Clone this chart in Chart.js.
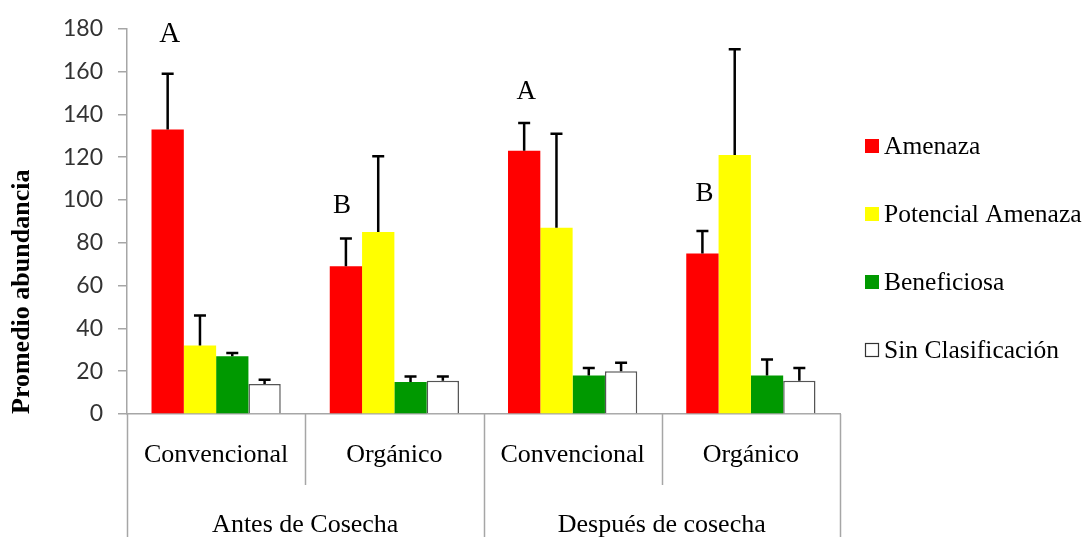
<!DOCTYPE html>
<html>
<head>
<meta charset="utf-8">
<script src="https://cdn.jsdelivr.net/npm/chart.js@4.4.0/dist/chart.umd.min.js"></script>
<style>
  body { margin: 0; background: #fff; }
  #wrap { width: 1091px; height: 537px; }
</style>
</head>
<body>
<div id="wrap"><canvas id="grafico"></canvas></div>
<script>
// datos
var categorias = ['Convencional', 'Orgánico', 'Convencional', 'Orgánico'];
var grupos = ['Antes de Cosecha', 'Después de cosecha'];
var series = ['Amenaza', 'Potencial Amenaza', 'Beneficiosa', 'Sin Clasificación'];
var amenaza = [133, 69, 123, 75];
var potencial = [32, 85, 87, 121];
var beneficiosa = [27, 15, 18, 18];
var sinClasif = [14, 15.5, 20, 15.5];
// extremo superior de la barra de error
var errAmenaza = [159, 82, 136, 85.5];
var errPotencial = [46, 120.5, 131, 170.5];
var errBeneficiosa = [28.5, 17.5, 21.5, 25.5];
var errSinClasif = [16, 17.5, 24, 21.5];
// letras de significancia sobre Amenaza
var letras = ['A', 'B', 'A', 'B'];
var letrasY = [174, 94, 147, 99.5];
var yTicks = [0, 20, 40, 60, 80, 100, 120, 140, 160, 180];

var serif = '"Liberation Serif", "Times New Roman", serif';
var colores = ['#ff0000', '#ffff00', '#009900', '#ffffff'];
var bordes = ['#ff0000', '#ffff00', '#009900', '#555555'];
var valores = [amenaza, potencial, beneficiosa, sinClasif];
var errores = [errAmenaza, errPotencial, errBeneficiosa, errSinClasif];

var datasets = [];
for (var i = 0; i < series.length; i++) {
    datasets.push({
        label: series[i],
        data: valores[i],
        errTop: errores[i],
        backgroundColor: colores[i],
        borderColor: bordes[i],
        borderWidth: i == 3 ? 1.5 : 0,
        borderSkipped: 'bottom',
        categoryPercentage: 0.725,
        barPercentage: 1.0
    });
}

var pluginExtra = {
    id: 'extra',
    afterDatasetsDraw: function(chart) {
        var ctx = chart.ctx;
        var y = chart.scales.y;
        ctx.save();
        // barras de error
        chart.data.datasets.forEach(function(ds, di) {
            var meta = chart.getDatasetMeta(di);
            meta.data.forEach(function(bar, k) {
                var y0 = y.getPixelForValue(ds.data[k]);
                var y1 = y.getPixelForValue(ds.errTop[k]);
                ctx.strokeStyle = '#000';
                ctx.lineWidth = 2.5;
                ctx.beginPath();
                ctx.moveTo(bar.x, y0);
                ctx.lineTo(bar.x, y1);
                ctx.moveTo(bar.x - 6, y1);
                ctx.lineTo(bar.x + 6, y1);
                ctx.stroke();
            });
        });
        // letras
        var meta0 = chart.getDatasetMeta(0);
        ctx.fillStyle = '#000';
        ctx.textAlign = 'center';
        ctx.textBaseline = 'alphabetic';
        letras.forEach(function(l, k) {
            ctx.font = (k == 0 ? '29px ' : '27px ') + serif;
            ctx.fillText(l, meta0.data[k].x + (k == 1 ? -4 : 2), y.getPixelForValue(letrasY[k]));
        });
        ctx.restore();
    },
    afterDraw: function(chart) {
        var ctx = chart.ctx;
        var x = chart.scales.x;
        var area = chart.chartArea;
        var h = chart.height;
        ctx.save();
        // separadores del eje x
        var limites = [area.left];
        for (var k = 0; k < categorias.length - 1; k++) {
            limites.push((x.getPixelForValue(k) + x.getPixelForValue(k + 1)) / 2);
        }
        limites.push(area.right);
        ctx.strokeStyle = '#a6a6a6';
        ctx.lineWidth = 1.5;
        limites.forEach(function(px, k) {
            var largo = (k % 2 == 0) ? h : area.bottom + 71;
            ctx.beginPath();
            ctx.moveTo(Math.round(px) + 0.5, area.bottom);
            ctx.lineTo(Math.round(px) + 0.5, largo);
            ctx.stroke();
        });
        // etiquetas de grupo
        ctx.fillStyle = '#000';
        ctx.font = '26px ' + serif;
        ctx.textAlign = 'center';
        ctx.textBaseline = 'alphabetic';
        grupos.forEach(function(g, k) {
            var cx = (limites[k * 2] + limites[k * 2 + 2]) / 2;
            ctx.fillText(g, cx, 532);
        });
        // leyenda
        ctx.font = '25.5px ' + serif;
        ctx.textAlign = 'left';
        ctx.textBaseline = 'middle';
        chart.data.datasets.forEach(function(ds, k) {
            var cy = 146 + k * 68;
            ctx.fillStyle = ds.backgroundColor;
            ctx.fillRect(865, cy - 7, 14, 14);
            if (k == 3) {
                ctx.strokeStyle = '#333';
                ctx.lineWidth = 1.2;
                ctx.strokeRect(865.5, cy - 6.5, 13, 13);
            }
            ctx.fillStyle = '#000';
            ctx.fillText(ds.label, 884, cy + 1);
        });
        ctx.restore();
    }
};

var ctx = document.getElementById('grafico').getContext('2d');
var chart = new Chart(ctx, {
    type: 'bar',
    data: {
        labels: categorias,
        datasets: datasets
    },
    options: {
        responsive: true,
        maintainAspectRatio: false,
        animation: false,
        events: [],
        layout: { padding: { top: 27, right: 251, bottom: 0, left: 0 } },
        plugins: {
            legend: { display: false },
            tooltip: { enabled: false }
        },
        scales: {
            x: {
                grid: { display: false, drawTicks: false },
                border: { display: true, color: '#a6a6a6', width: 1.5 },
                ticks: {
                    color: '#000',
                    font: { family: serif, size: 26 },
                    padding: 26,
                    maxRotation: 0,
                    autoSkip: false
                },
                afterFit: function(scale) { scale.height = 123; }
            },
            y: {
                min: 0,
                max: 180,
                afterBuildTicks: function(scale) {
                    scale.ticks = yTicks.map(function(v) { return { value: v }; });
                },
                grid: { display: true, drawOnChartArea: false, tickLength: 9, color: '#a6a6a6', lineWidth: 1.5 },
                border: { display: true, color: '#a6a6a6', width: 1.5 },
                ticks: {
                    color: '#333',
                    font: { family: 'Lato, "Open Sans", sans-serif', size: 23 },
                    padding: 15
                },
                title: {
                    display: true,
                    text: 'Promedio abundancia',
                    align: 'start',
                    color: '#000',
                    font: { family: serif, size: 26, weight: 'bold' },
                    padding: { top: 7, bottom: 0 }
                },
                afterFit: function(scale) { scale.width = 127; }
            }
        }
    },
    plugins: [pluginExtra]
});
</script>
</body>
</html>
